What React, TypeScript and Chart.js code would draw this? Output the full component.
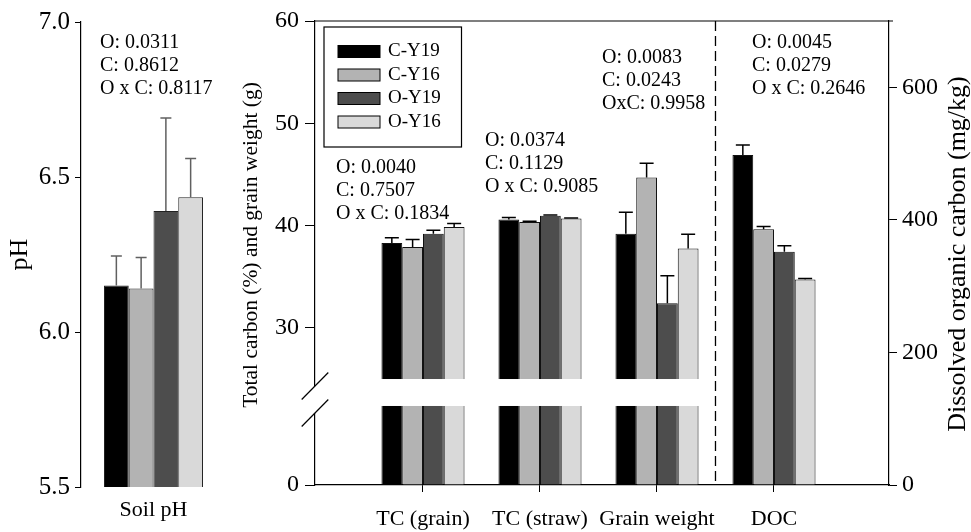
import React, { useEffect, useRef } from 'react';
import { Chart, LinearScale, registerables } from 'chart.js';

const FONT = "'Liberation Serif', 'Times New Roman', serif";

// ---------- data ----------
const SERIES = ['C-Y19', 'C-Y16', 'O-Y19', 'O-Y16'];
const SERIES_COLORS = ['#000000', '#b3b3b3', '#4d4d4d', '#d9d9d9'];

const PH_CATEGORY = ['Soil pH'];
const PH_VALUES = [6.15, 6.14, 6.39, 6.435];
const PH_ERRORS = [0.095, 0.1, 0.3, 0.125];
const PH_TICKS = [5.5, 6.0, 6.5, 7.0];
const PH_STATS = ['O: 0.0311', 'C: 0.8612', 'O x C: 0.8117'];

const CATEGORIES = ['TC (grain)', 'TC (straw)', 'Grain weight', 'DOC'];
const TC_GRAIN = [38.3, 37.9, 39.2, 39.85];
const TC_GRAIN_ERR = [0.5, 0.75, 0.35, 0.35];
const TC_STRAW = [40.6, 40.35, 40.95, 40.7];
const TC_STRAW_ERR = [0.2, 0.08, 0.08, 0.05];
const GRAIN_WEIGHT = [39.2, 44.7, 32.4, 37.75];
const GRAIN_WEIGHT_ERR = [2.1, 1.4, 2.7, 1.4];
const DOC = [498, 386, 352, 310];
const DOC_ERR = [15, 4, 9, 1.5];
const LEFT_TICKS = [0, 30, 40, 50, 60];
const RIGHT_TICKS = [0, 200, 400, 600];
const LEFT_TITLE = 'Total carbon (%) and grain weight (g)';
const RIGHT_TITLE = 'Dissolved organic carbon (mg/kg)';
const STATS = [
  ['O: 0.0040', 'C: 0.7507', 'O x C: 0.1834'],
  ['O: 0.0374', 'C: 0.1129', 'O x C: 0.9085'],
  ['O: 0.0083', 'C: 0.0243', 'OxC: 0.9958'],
  ['O: 0.0045', 'C: 0.0279', 'O x C: 0.2646'],
];

// ---------- broken axis config ----------
const BREAK_LOW = 8;
const BREAK_HIGH = 25;
const FRAC_LOW = 0.1703;
const FRAC_HIGH = 0.2284;
const SEPARATOR_X = 3.5;

class BrokenLinearScale extends (LinearScale as any) {
  static id = 'brokenLinear';
  static defaults = {};
  buildTicks() {
    return LEFT_TICKS.map((v) => ({ value: v }));
  }
  toDecimal(v: number) {
    const min = this.min;
    const max = this.max;
    if (v <= BREAK_LOW) return ((v - min) / (BREAK_LOW - min)) * FRAC_LOW;
    if (v >= BREAK_HIGH) return FRAC_HIGH + ((v - BREAK_HIGH) / (max - BREAK_HIGH)) * (1 - FRAC_HIGH);
    return FRAC_LOW + ((v - BREAK_LOW) / (BREAK_HIGH - BREAK_LOW)) * (FRAC_HIGH - FRAC_LOW);
  }
  getPixelForValue(value: any) {
    if (value === null || value === undefined || isNaN(value)) return NaN;
    return this.getPixelForDecimal(this.toDecimal(value));
  }
  getValueForPixel(pixel: number) {
    const d = this.getDecimalForPixel(pixel);
    if (d <= FRAC_LOW) return this.min + (d / FRAC_LOW) * (BREAK_LOW - this.min);
    if (d >= FRAC_HIGH) return BREAK_HIGH + ((d - FRAC_HIGH) / (1 - FRAC_HIGH)) * (this.max - BREAK_HIGH);
    return BREAK_LOW + ((d - FRAC_LOW) / (FRAC_HIGH - FRAC_LOW)) * (BREAK_HIGH - BREAK_LOW);
  }
}

Chart.register(...registerables, BrokenLinearScale as any);
Chart.defaults.font.family = FONT;
Chart.defaults.color = '#000';

function makeErrorBars(color: string, width: number, cap: number) {
  return {
    id: 'errorBars',
    afterDatasetsDraw(chart: any) {
      const ctx = chart.ctx;
      chart.data.datasets.forEach((ds: any, i: number) => {
        const meta = chart.getDatasetMeta(i);
        if (!ds.errors || meta.hidden) return;
        meta.data.forEach((bar: any, j: number) => {
          const raw = ds.data[j];
          const v = typeof raw === 'number' ? raw : raw.y;
          const yTop = meta.vScale.getPixelForValue(v + ds.errors[j]);
          ctx.save();
          ctx.strokeStyle = color;
          ctx.lineWidth = width;
          ctx.beginPath();
          ctx.moveTo(bar.x, bar.y);
          ctx.lineTo(bar.x, yTop);
          ctx.moveTo(bar.x - cap / 2, yTop);
          ctx.lineTo(bar.x + cap / 2, yTop);
          ctx.stroke();
          ctx.restore();
        });
      });
    },
  };
}

const phDecor = {
  id: 'phDecor',
  afterDraw(chart: any) {
    const { ctx, chartArea: a } = chart;
    ctx.save();
    ctx.fillStyle = '#000';
    ctx.font = `20px ${FONT}`;
    ctx.textAlign = 'left';
    ctx.textBaseline = 'middle';
    PH_STATS.forEach((t, r) => ctx.fillText(t, a.left + 19, a.top + 21 + r * 23));
    ctx.restore();
  },
};

const ANNOT_OFFSETS = [
  { dx: -87, dy: 147 },
  { dx: -55, dy: 120 },
  { dx: -55, dy: 37 },
  { dx: -22, dy: 22 },
];

const mainDecor = {
  id: 'mainDecor',
  afterDatasetsDraw(chart: any) {
    const { ctx, chartArea: a, scales } = chart;
    const gapTop = scales.y.getPixelForValue(BREAK_HIGH);
    const gapBottom = scales.y.getPixelForValue(BREAK_LOW);
    const sepX = scales.x.getPixelForValue(SEPARATOR_X);
    ctx.save();
    ctx.fillStyle = '#fff';
    ctx.fillRect(a.left + 2, gapTop, sepX - 4 - (a.left + 2), gapBottom - gapTop);
    ctx.strokeStyle = '#000';
    ctx.lineWidth = 1.3;
    ctx.setLineDash([10, 5]);
    ctx.beginPath();
    ctx.moveTo(sepX, a.top);
    ctx.lineTo(sepX, a.bottom);
    ctx.stroke();
    ctx.restore();
  },
  afterDraw(chart: any) {
    const { ctx, chartArea: a, scales } = chart;
    ctx.save();
    // top frame line
    ctx.strokeStyle = '#000';
    ctx.lineWidth = 1.2;
    ctx.beginPath();
    ctx.moveTo(a.left, a.top);
    ctx.lineTo(a.right + 4, a.top);
    ctx.stroke();

    // axis break marks
    const gapBottom = scales.y.getPixelForValue(BREAK_LOW);
    const c1 = gapBottom - 20;
    const c2 = gapBottom + 7;
    ctx.fillStyle = '#fff';
    ctx.fillRect(a.left - 2, c1, 4, c2 - c1);
    ctx.strokeStyle = '#000';
    ctx.lineWidth = 1.2;
    [c1, c2].forEach((cy) => {
      ctx.beginPath();
      ctx.moveTo(a.left - 13.3, cy + 13.5);
      ctx.lineTo(a.left + 13.3, cy - 13.5);
      ctx.stroke();
    });

    // legend
    ctx.lineWidth = 1.2;
    ctx.strokeRect(a.left + 9, a.top + 6, 137.5, 120);
    ctx.font = `19px ${FONT}`;
    ctx.textAlign = 'left';
    ctx.textBaseline = 'middle';
    chart.data.datasets.slice(0, SERIES.length).forEach((ds: any, i: number) => {
      const cy = a.top + 30.5 + i * 23.5;
      ctx.fillStyle = ds.backgroundColor;
      ctx.fillRect(a.left + 23, cy - 6, 42, 12);
      ctx.lineWidth = 1;
      ctx.strokeStyle = '#000';
      ctx.strokeRect(a.left + 23, cy - 6, 42, 12);
      ctx.fillStyle = '#000';
      ctx.fillText(ds.label, a.left + 73, cy);
    });

    // statistics annotations
    ctx.font = `20px ${FONT}`;
    ctx.fillStyle = '#000';
    STATS.forEach((lines, c) => {
      const px = scales.x.getPixelForValue(c + 1) + ANNOT_OFFSETS[c].dx;
      lines.forEach((t, r) => ctx.fillText(t, px, a.top + ANNOT_OFFSETS[c].dy + r * 23));
    });

    // axis titles (both read bottom-to-top)
    ctx.textAlign = 'center';
    ctx.save();
    ctx.translate(a.left - 64, (a.top + a.bottom) / 2 - 8);
    ctx.rotate(-Math.PI / 2);
    ctx.font = `21.5px ${FONT}`;
    ctx.fillText(LEFT_TITLE, 0, 0);
    ctx.restore();

    ctx.translate(a.right + 69, (a.top + a.bottom) / 2 + 1);
    ctx.rotate(-Math.PI / 2);
    ctx.font = `26px ${FONT}`;
    ctx.fillText(RIGHT_TITLE, 0, 0);
    ctx.restore();
  },
};

function phConfig(): any {
  return {
    type: 'bar',
    data: {
      labels: PH_CATEGORY,
      datasets: SERIES.map((label, s) => ({
        label,
        data: [PH_VALUES[s]],
        errors: [PH_ERRORS[s]],
        backgroundColor: SERIES_COLORS[s],
        borderColor: '#222',
        borderWidth: 1,
        categoryPercentage: 0.683,
        barPercentage: 1,
      })),
    },
    options: {
      responsive: false,
      animation: false,
      layout: { padding: { top: 22, right: 14, left: 0, bottom: 0 } },
      plugins: { legend: { display: false }, tooltip: { enabled: false } },
      scales: {
        x: {
          type: 'category',
          grid: { display: false, drawTicks: false },
          border: { display: false },
          ticks: { padding: 10, color: '#000', font: { size: 22, family: FONT } },
          afterFit: (s: any) => { s.height = 45; },
        },
        y: {
          type: 'linear',
          min: 5.5,
          max: 7.0,
          bounds: 'data',
          afterBuildTicks: (s: any) => { s.ticks = PH_TICKS.map((v) => ({ value: v })); },
          ticks: { padding: 5, color: '#000', font: { size: 25, family: FONT }, callback: (v: any) => Number(v).toFixed(1) },
          grid: { drawOnChartArea: false, tickLength: 6, color: '#000' },
          border: { color: '#000', width: 1.2 },
          title: { display: true, text: 'pH', color: '#000', font: { size: 26, family: FONT }, padding: { top: 5, bottom: 0 } },
          afterFit: (s: any) => { s.width = 81; },
        },
      },
    },
    plugins: [makeErrorBars('#606060', 1.5, 11), phDecor],
  };
}

function mainConfig(): any {
  const leftSets = SERIES.map((label, s) => ({
    label,
    data: [
      { x: 1, y: TC_GRAIN[s] },
      { x: 2, y: TC_STRAW[s] },
      { x: 3, y: GRAIN_WEIGHT[s] },
    ],
    errors: [TC_GRAIN_ERR[s], TC_STRAW_ERR[s], GRAIN_WEIGHT_ERR[s]],
    yAxisID: 'y',
    backgroundColor: SERIES_COLORS[s],
    borderColor: '#111',
    borderWidth: 1,
    categoryPercentage: 0.71,
    barPercentage: 1,
    skipNull: true,
  }));
  const docSets = SERIES.map((label, s) => ({
    label,
    data: [{ x: 4, y: DOC[s] }],
    errors: [DOC_ERR[s]],
    yAxisID: 'y2',
    backgroundColor: SERIES_COLORS[s],
    borderColor: '#111',
    borderWidth: 1,
    categoryPercentage: 0.71,
    barPercentage: 1,
    skipNull: true,
  }));
  return {
    type: 'bar',
    data: { datasets: [...leftSets, ...docSets] },
    options: {
      responsive: false,
      animation: false,
      layout: { padding: { top: 21, right: 0, left: 0, bottom: 0 } },
      plugins: { legend: { display: false }, tooltip: { enabled: false } },
      scales: {
        x: {
          type: 'linear',
          min: 0.077,
          max: 4.983,
          bounds: 'data',
          offset: false,
          afterBuildTicks: (s: any) => { s.ticks = CATEGORIES.map((_, i) => ({ value: i + 1 })); },
          ticks: {
            autoSkip: false,
            maxRotation: 0,
            minRotation: 0,
            padding: 14,
            color: '#000',
            font: { size: 22, family: FONT },
            callback: (v: any) => CATEGORIES[Math.round(v) - 1] ?? '',
          },
          grid: { offset: false, drawOnChartArea: false, tickLength: 7, color: '#000' },
          border: { color: '#000', width: 1.2 },
          afterFit: (s: any) => { s.height = 47; },
        },
        y: {
          type: 'brokenLinear',
          position: 'left',
          min: 0,
          max: 60,
          ticks: { padding: 6, color: '#000', font: { size: 24, family: FONT }, callback: (v: any) => String(v) },
          grid: { drawOnChartArea: false, tickLength: 10, color: '#000' },
          border: { color: '#000', width: 1.2 },
          afterFit: (s: any) => { s.width = 85; },
        },
        y2: {
          type: 'linear',
          position: 'right',
          min: 0,
          max: 700,
          bounds: 'data',
          afterBuildTicks: (s: any) => { s.ticks = RIGHT_TICKS.map((v) => ({ value: v })); },
          ticks: { padding: 5, color: '#000', font: { size: 24, family: FONT }, callback: (v: any) => String(v) },
          grid: { drawOnChartArea: false, tickLength: 8, color: '#000' },
          border: { color: '#000', width: 1.2 },
          afterFit: (s: any) => { s.width = 82; },
        },
      },
    },
    plugins: [makeErrorBars('#000', 1.5, 14), mainDecor],
  };
}

export default function App() {
  const phRef = useRef<HTMLCanvasElement>(null);
  const mainRef = useRef<HTMLCanvasElement>(null);
  useEffect(() => {
    const ph = new Chart(phRef.current as HTMLCanvasElement, phConfig());
    const main = new Chart(mainRef.current as HTMLCanvasElement, mainConfig());
    return () => {
      ph.destroy();
      main.destroy();
    };
  }, []);
  return (
    <div style={{ position: 'fixed', left: 0, top: 0, width: 971, height: 532, background: '#fff' }}>
      <canvas ref={phRef} width={240} height={532} style={{ position: 'absolute', left: 0, top: 0 }} />
      <canvas ref={mainRef} width={741} height={532} style={{ position: 'absolute', left: 230, top: 0 }} />
    </div>
  );
}
